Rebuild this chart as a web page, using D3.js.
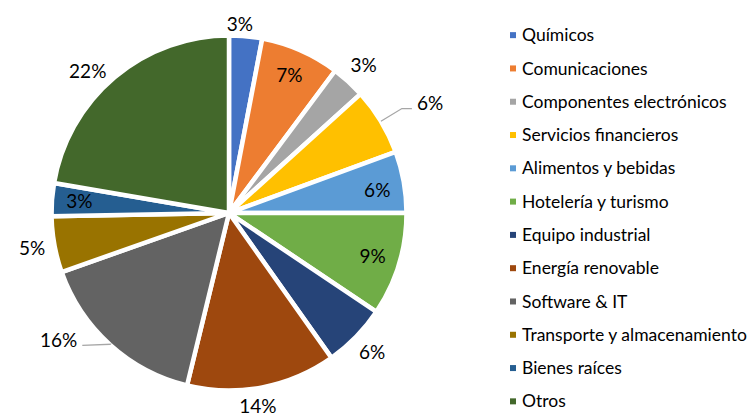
<!DOCTYPE html>
<html>
<head>
<meta charset="utf-8">
<script src="https://cdn.jsdelivr.net/npm/d3@7"></script>
<style>
  body { margin: 0; background: #fff; }
  svg text { font-family: Lato, "Liberation Sans", sans-serif; fill: #000; }
</style>
</head>
<body>
<div id="chart"></div>
<script>
const categories = [
    "Químicos", "Comunicaciones", "Componentes electrónicos", "Servicios financieros",
    "Alimentos y bebidas", "Hotelería y turismo", "Equipo industrial", "Energía renovable",
    "Software & IT", "Transporte y almacenamiento", "Bienes raíces", "Otros"
];
const values = [3.0, 7.2, 3.1, 6.1, 5.6, 9.4, 5.8, 13.6, 15.8, 5.1, 3.0, 22.3];
const colors = [
    "#4472C4", "#ED7D31", "#A5A5A5", "#FFC000", "#5B9BD5", "#70AD47",
    "#264478", "#9E480E", "#636363", "#997300", "#255E91", "#43682B"
];

// where each percent label goes (inside / outside / with leader line), angle tweak in degrees
const labelLayout = [
    { pos: "out", r: 189, shift: -2.1 },
    { pos: "in" },
    { pos: "out" },
    { pos: "leader", elbowR: 202, tail: 10 },
    { pos: "in", shift: 1.3 },
    { pos: "in" },
    { pos: "out" },
    { pos: "out", r: 195, shift: 2.3 },
    { pos: "leader", elbowR: 177, tail: -28 },
    { pos: "out" },
    { pos: "in" },
    { pos: "out", shift: -4.8 }
];

const width = 751, height = 419;
const cx = 229, cy = 213, radius = 177.5;

const data = categories.map((c, i) => ({ name: c, value: values[i], color: colors[i], layout: labelLayout[i] }));

const svg = d3.select("#chart").append("svg")
    .attr("width", width)
    .attr("height", height);

const pieArea = svg.append("g")
    .attr("transform", `translate(${cx}, ${cy})`);

const pie = d3.pie().sort(null).value(d => d.value);
const arc = d3.arc().innerRadius(0).outerRadius(radius);
const arcs = pie(data);

pieArea.selectAll("path.slice")
    .data(arcs)
    .enter().append("path")
    .attr("class", "slice")
    .attr("d", arc)
    .attr("fill", d => d.data.color)
    .attr("stroke", "#fff")
    .attr("stroke-width", 4.5)
    .attr("stroke-linejoin", "round");

function polar(angle, r) {
    return [r * Math.sin(angle), -r * Math.cos(angle)];
}

const fmt = v => Math.round(v) + "%";

arcs.forEach(d => {
    let lay = d.data.layout;
    let mid = (d.startAngle + d.endAngle) / 2;
    let a = mid + (lay.shift || 0) * Math.PI / 180;

    if (lay.pos === "leader") {
        let p0 = polar(mid, radius);
        let p1 = polar(mid, lay.elbowR);
        let p2 = [p1[0] + lay.tail, p1[1] + (lay.tail < 0 ? 1 : 0)];
        pieArea.append("polyline")
            .attr("points", [p0, p1, p2].map(p => p.join(",")).join(" "))
            .attr("fill", "none")
            .attr("stroke", "#A6A6A6")
            .attr("stroke-width", 1.3);
        pieArea.append("text")
            .attr("x", p2[0] + (lay.tail > 0 ? 5 : -5))
            .attr("y", p2[1] - 5)
            .attr("dy", "0.35em")
            .attr("text-anchor", lay.tail > 0 ? "start" : "end")
            .style("font-size", "19px")
            .text(fmt(d.data.value));
    } else {
        let r = lay.r || (lay.pos === "in" ? 150 : 200);
        let p = polar(a, r);
        pieArea.append("text")
            .attr("x", p[0])
            .attr("y", p[1])
            .attr("dy", "0.35em")
            .attr("text-anchor", "middle")
            .style("font-size", "19px")
            .text(fmt(d.data.value));
    }
});

// legend
const legendY = d3.scaleBand()
    .domain(categories)
    .range([18.5, 418]);

const legend = svg.append("g")
    .attr("transform", "translate(510, 0)");

const rows = legend.selectAll("g.row")
    .data(data)
    .enter().append("g")
    .attr("class", "row")
    .attr("transform", d => `translate(0, ${legendY(d.name) + legendY.bandwidth() / 2})`);

rows.append("rect")
    .attr("x", 0)
    .attr("y", -3)
    .attr("width", 6)
    .attr("height", 6)
    .attr("fill", d => d.color);

rows.append("text")
    .attr("x", 12)
    .attr("y", 0)
    .attr("dy", "0.35em")
    .style("font-size", "17.5px")
    .text(d => d.name);
</script>
</body>
</html>
